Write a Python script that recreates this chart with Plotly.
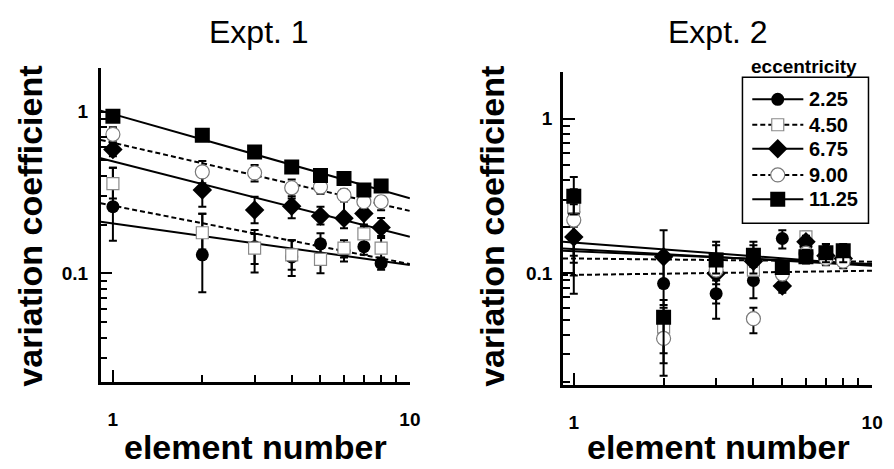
import math
import plotly.graph_objects as go

# ---------------- data ----------------
element = [1, 2, 3, 4, 5, 6, 7, 8]
ecc_labels = ["2.25", "4.50", "6.75", "9.00", "11.25"]

# Expt. 1 (mean, upper end of error bar, lower end of error bar)
e1_225 = [0.258, 0.130, 0.146, 0.126, 0.152, 0.138, 0.146, 0.115]
e1_225_hi = [0.45, 0.233, 0.185, 0.16, 0.177, 0.152, 0.172, 0.124]
e1_225_lo = [0.159, 0.0763, 0.101, 0.096, 0.128, 0.118, 0.13, 0.105]
e1_450 = [0.359, 0.178, 0.143, 0.13, 0.122, 0.143, 0.175, 0.143]
e1_450_hi = [0.45, 0.233, 0.175, 0.16, 0.15, 0.16, 0.20, 0.165]
e1_450_lo = [0.29, 0.14, 0.114, 0.105, 0.10, 0.125, 0.15, 0.125]
e1_675 = [0.582, 0.327, 0.246, 0.26, 0.226, 0.219, 0.234, 0.192]
e1_675_hi = [0.64, 0.40, 0.297, 0.29, 0.258, 0.278, 0.29, 0.22]
e1_675_lo = [0.53, 0.258, 0.204, 0.219, 0.20, 0.19, 0.195, 0.17]
e1_900 = [0.724, 0.424, 0.418, 0.338, 0.342, 0.304, 0.277, 0.277]
e1_900_hi = [0.80, 0.495, 0.468, 0.38, 0.375, 0.33, 0.30, 0.30]
e1_900_lo = [0.66, 0.36, 0.37, 0.30, 0.31, 0.28, 0.255, 0.245]
e1_1125 = [0.935, 0.714, 0.563, 0.455, 0.402, 0.386, 0.327, 0.346]
e1_1125_hi = [0.99, 0.76, 0.60, 0.49, 0.43, 0.41, 0.35, 0.37]
e1_1125_lo = [0.88, 0.67, 0.53, 0.425, 0.375, 0.36, 0.305, 0.325]

# Expt. 2
e2_225 = [0.25, 0.086, 0.074, 0.09, 0.168, 0.149, 0.14, 0.13]
e2_225_hi = [0.33, 0.125, 0.095, 0.11, 0.19, 0.165, 0.155, 0.145]
e2_225_lo = [0.074, 0.0624, 0.051, 0.069, 0.145, 0.135, 0.125, 0.118]
e2_450 = [0.27, 0.045, 0.11, 0.105, 0.105, 0.172, 0.13, 0.125]
e2_450_hi = [0.35, 0.06, 0.152, 0.152, 0.115, 0.186, 0.145, 0.14]
e2_450_lo = [0.097, 0.0263, 0.09, 0.09, 0.095, 0.155, 0.117, 0.113]
e2_675 = [0.172, 0.128, 0.10, 0.12, 0.083, 0.16, 0.13, 0.125]
e2_675_hi = [0.2, 0.19, 0.12, 0.14, 0.09, 0.175, 0.145, 0.14]
e2_675_lo = [0.13, 0.09, 0.085, 0.10, 0.075, 0.145, 0.117, 0.113]
e2_900 = [0.221, 0.038, 0.105, 0.051, 0.099, 0.135, 0.125, 0.12]
e2_900_hi = [0.28, 0.05, 0.13, 0.06, 0.11, 0.15, 0.14, 0.135]
e2_900_lo = [0.117, 0.0218, 0.064, 0.041, 0.09, 0.12, 0.113, 0.108]
e2_1125 = [0.315, 0.052, 0.122, 0.131, 0.109, 0.128, 0.136, 0.14]
e2_1125_hi = [0.42, 0.0673, 0.16, 0.16, 0.12, 0.142, 0.155, 0.155]
e2_1125_lo = [0.24, 0.0305, 0.10, 0.11, 0.10, 0.116, 0.118, 0.118]

# fitted power-law lines: values at the two ends of the x axis
fit1_x = [0.91, 10]
fit1_225 = [0.208, 0.1125]
fit1_450 = [0.271, 0.114]
fit1_675 = [0.515, 0.168]
fit1_900 = [0.668, 0.243]
fit1_1125 = [1.014, 0.291]

fit2_x = [0.92, 10]
fit2_225 = [0.145, 0.112]
fit2_450 = [0.125, 0.119]
fit2_675 = [0.14, 0.115]
fit2_900 = [0.0975, 0.104]
fit2_1125 = [0.16, 0.113]

x_major = [1, 10]
x_major_text = ["1", "10"]
x_minor = [2, 3, 4, 5, 6, 7, 8, 9]
y_major = [0.1, 1]
y_major_text = ["0.1", "1"]
y_minor = [0.02, 0.03, 0.04, 0.05, 0.06, 0.07, 0.08, 0.09,
           0.2, 0.3, 0.4, 0.5, 0.6, 0.7, 0.8, 0.9, 2]

# ---------------- styles ----------------
FONT = "Liberation Sans, Arial, Helvetica, sans-serif"
W, H = 894, 469

styles = {
    "2.25": dict(symbol="circle", size=13, color="black", line=dict(color="black", width=0), dash="solid"),
    "4.50": dict(symbol="square", size=12, color="white", line=dict(color="#8a8a8a", width=1.2), dash="5px,3px"),
    "6.75": dict(symbol="diamond", size=15, color="black", line=dict(color="black", width=0), dash="solid"),
    "9.00": dict(symbol="circle", size=14, color="white", line=dict(color="#7a7a7a", width=1.2), dash="5px,3px"),
    "11.25": dict(symbol="square", size=15, color="black", line=dict(color="black", width=0), dash="solid"),
}

fig = go.Figure()

def add_panel(xa, ya, fx, fits, series):
    for lab, fy in zip(ecc_labels, fits):
        fig.add_trace(go.Scatter(
            x=fx, y=fy, mode="lines", xaxis=xa, yaxis=ya, showlegend=False,
            line=dict(color="black", width=2, dash=styles[lab]["dash"]),
            hoverinfo="skip"))
    for lab, (v, hi, lo) in zip(ecc_labels, series):
        st = styles[lab]
        fig.add_trace(go.Scatter(
            x=element, y=v, mode="markers", xaxis=xa, yaxis=ya,
            name=lab, showlegend=False,
            marker=dict(symbol=st["symbol"], size=st["size"], color=st["color"], line=st["line"]),
            error_y=dict(type="data", symmetric=False,
                         array=[h - m for h, m in zip(hi, v)],
                         arrayminus=[m - l for m, l in zip(v, lo)],
                         color="black", thickness=2, width=4)))

add_panel("x", "y", fit1_x,
          [fit1_225, fit1_450, fit1_675, fit1_900, fit1_1125],
          [(e1_225, e1_225_hi, e1_225_lo), (e1_450, e1_450_hi, e1_450_lo),
           (e1_675, e1_675_hi, e1_675_lo), (e1_900, e1_900_hi, e1_900_lo),
           (e1_1125, e1_1125_hi, e1_1125_lo)])
add_panel("x2", "y2", fit2_x,
          [fit2_225, fit2_450, fit2_675, fit2_900, fit2_1125],
          [(e2_225, e2_225_hi, e2_225_lo), (e2_450, e2_450_hi, e2_450_lo),
           (e2_675, e2_675_hi, e2_675_lo), (e2_900, e2_900_hi, e2_900_lo),
           (e2_1125, e2_1125_hi, e2_1125_lo)])

# ---------------- custom legend (own small axes) ----------------
leg_y = [0.849, 0.675, 0.511, 0.331, 0.164]
for lab, yc in zip(ecc_labels, leg_y):
    st = styles[lab]
    fig.add_trace(go.Scatter(x=[0.078, 0.483], y=[yc, yc], mode="lines", xaxis="x3", yaxis="y3",
                             showlegend=False, hoverinfo="skip",
                             line=dict(color="black", width=2, dash=st["dash"])))
    fig.add_trace(go.Scatter(x=[0.28], y=[yc], mode="markers", xaxis="x3", yaxis="y3",
                             showlegend=False, hoverinfo="skip",
                             marker=dict(symbol=st["symbol"], size=st["size"], color=st["color"], line=st["line"])))

def px_x(p):
    return p / W

def px_y(p):
    return 1 - p / H

def xaxis_cfg(dom, rng):
    return dict(domain=dom, type="log", range=rng, showgrid=False, zeroline=False,
                showline=True, linecolor="black", linewidth=2.5,
                ticks="inside", tickvals=x_major, ticktext=x_major_text,
                ticklen=12, tickwidth=2, tickcolor="black",
                ticklabelstandoff=18,
                tickfont=dict(family=FONT, size=19, color="black", weight="bold"),
                minor=dict(tickvals=x_minor, ticks="inside", ticklen=7, tickwidth=2, tickcolor="black"),
                fixedrange=True)

def yaxis_cfg(dom, rng, anchor, minor_vals, standoff):
    return dict(domain=dom, type="log", range=rng, anchor=anchor, showgrid=False, zeroline=False,
                showline=True, linecolor="black", linewidth=2.5,
                ticks="inside", tickvals=y_major, ticktext=y_major_text,
                ticklen=12, tickwidth=2, tickcolor="black",
                ticklabelstandoff=standoff,
                tickfont=dict(family=FONT, size=19, color="black", weight="bold"),
                minor=dict(tickvals=minor_vals, ticks="inside", ticklen=7, tickwidth=2, tickcolor="black"),
                fixedrange=True)

left_top = 0.270
left_minor = [v for v in y_minor if v < 10 ** left_top] + [10 ** left_top]

fig.update_layout(
    width=W, height=H, margin=dict(l=0, r=0, t=0, b=0),
    paper_bgcolor="white", plot_bgcolor="rgba(0,0,0,0)",
    font=dict(family=FONT, color="black"),
    showlegend=False,
    xaxis=dict(**xaxis_cfg([px_x(102), px_x(415)], [math.log10(0.91), 1]), anchor="y"),
    yaxis=yaxis_cfg([px_y(382), px_y(68)], [-1.673, left_top], "x", left_minor, 6),
    xaxis2=dict(**xaxis_cfg([px_x(570), px_x(883)], [math.log10(0.92), 1]), anchor="y2"),
    yaxis2=yaxis_cfg([px_y(385), px_y(72)], [-1.721, math.log10(2)], "x2", y_minor, 4),
    xaxis3=dict(domain=[px_x(751.7), px_x(879.3)], range=[0, 1], visible=False, anchor="y3", fixedrange=True),
    yaxis3=dict(domain=[px_y(223.3), px_y(77.3)], range=[0, 1], visible=False, anchor="x3", fixedrange=True),
)

# legend box
fig.add_shape(type="rect", xref="paper", yref="paper",
              x0=px_x(751.7), x1=px_x(879.3), y0=px_y(223.3), y1=px_y(77.3),
              line=dict(color="black", width=1.5), fillcolor="rgba(0,0,0,0)", layer="below")

ann = []
for lab, yc in zip(ecc_labels, leg_y):
    ann.append(dict(x=0.509, y=yc, xref="x3", yref="y3", text=lab, showarrow=False,
                    xanchor="left", yanchor="middle",
                    font=dict(family=FONT, size=20, color="black", weight="bold")))
ann.append(dict(x=px_x(814), y=px_y(67), xref="paper", yref="paper", text="eccentricity",
                showarrow=False, xanchor="center", yanchor="middle",
                font=dict(family=FONT, size=19, color="black", weight="bold")))
# panel titles
for txt, cx in [("Expt. 1", 262), ("Expt. 2", 727)]:
    ann.append(dict(x=px_x(cx), y=px_y(32), xref="paper", yref="paper", text=txt, showarrow=False,
                    xanchor="center", yanchor="middle",
                    font=dict(family=FONT, size=32, color="black")))
# axis titles
for cx in [258.5, 727]:
    ann.append(dict(x=px_x(cx), y=px_y(447), xref="paper", yref="paper", text="element number",
                    showarrow=False, xanchor="center", yanchor="middle",
                    font=dict(family=FONT, size=34, color="black", weight="bold")))
for cx in [30, 498]:
    ann.append(dict(x=px_x(cx), y=px_y(226), xref="paper", yref="paper", text="variation coefficient",
                    showarrow=False, xanchor="center", yanchor="middle", textangle=-90,
                    font=dict(family=FONT, size=34, color="black", weight="bold")))
fig.update_layout(annotations=ann)

fig.write_html("out.html", config={"displayModeBar": False},
               post_script="document.body.style.margin='0px';")
